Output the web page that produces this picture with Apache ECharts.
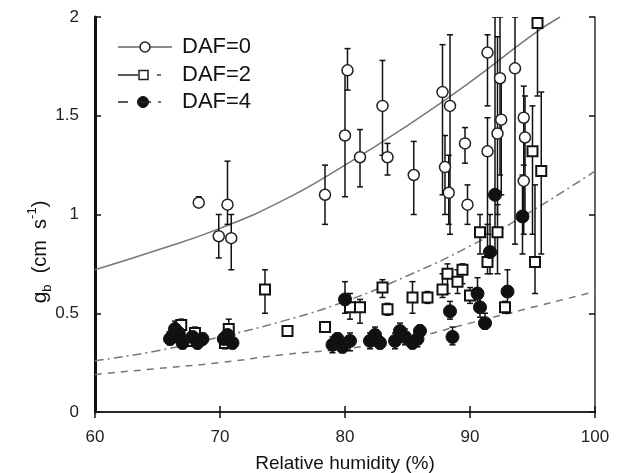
<!DOCTYPE html>
<html>
<head>
<meta charset="utf-8">
<script src="https://cdn.jsdelivr.net/npm/echarts@6/dist/echarts.min.js"></script>
<style>html,body{margin:0;padding:0;background:#fff}#c{width:617px;height:473px}</style>
</head>
<body>
<div id="c"></div>
<script>
// x ticks / y ticks
var xTicks = [60, 70, 80, 90, 100];
var yTicks = [0, 0.5, 1, 1.5, 2];

// [RH, gb, low, high]
var daf0 = [
  [68.3, 1.06, 1.04, 1.09], [69.9, 0.89, 0.78, 1.00], [70.6, 1.05, 0.95, 1.27], [70.9, 0.88, 0.72, 1.00],
  [78.4, 1.10, 0.95, 1.25], [80.0, 1.40, 1.09, 1.72], [80.2, 1.73, 1.63, 1.84], [81.2, 1.29, 1.14, 1.43],
  [83.0, 1.55, 1.30, 1.78], [83.4, 1.29, 1.20, 1.36], [85.5, 1.20, 1.00, 1.37], [87.8, 1.62, 1.10, 1.86],
  [88.0, 1.24, 1.00, 1.40], [88.3, 1.11, 0.95, 1.30], [88.4, 1.55, 0.90, 1.91], [89.6, 1.36, 1.26, 1.44],
  [89.8, 1.05, 0.95, 1.15], [91.4, 1.82, 1.55, 1.91], [91.4, 1.32, 0.90, 1.49], [92.2, 1.41, 1.00, 1.90],
  [92.4, 1.69, 1.20, 2.00], [92.5, 1.48, 1.10, 1.70], [93.6, 1.74, 0.85, 2.00], [94.3, 1.49, 1.25, 1.65],
  [94.4, 1.39, 1.00, 1.60], [94.3, 1.17, 0.90, 1.40]
];
var daf2 = [
  [66.2, 0.38, 0.36, 0.42], [66.9, 0.44, 0.41, 0.47], [67.4, 0.36, 0.34, 0.39], [68.0, 0.40, 0.37, 0.43],
  [70.4, 0.35, 0.32, 0.38], [70.7, 0.42, 0.38, 0.47], [73.6, 0.62, 0.50, 0.72], [75.4, 0.41, 0.39, 0.43],
  [78.4, 0.43, 0.41, 0.45], [80.4, 0.53, 0.47, 0.60], [81.2, 0.53, 0.45, 0.57], [83.0, 0.63, 0.58, 0.67],
  [83.4, 0.52, 0.49, 0.55], [85.4, 0.58, 0.50, 0.66], [86.6, 0.58, 0.55, 0.61], [87.8, 0.62, 0.58, 0.70],
  [88.2, 0.70, 0.60, 0.75], [89.0, 0.66, 0.60, 0.72], [89.4, 0.72, 0.65, 0.75], [90.0, 0.59, 0.55, 0.63],
  [90.8, 0.91, 0.80, 1.00], [91.4, 0.76, 0.70, 0.95], [92.2, 0.91, 0.70, 1.05], [92.8, 0.53, 0.50, 0.56],
  [95.2, 0.76, 0.60, 1.15], [95.0, 1.32, 0.90, 1.55], [95.7, 1.22, 0.80, 1.62], [95.4, 1.97, 1.60, 2.00]
];
var daf4 = [
  [66.0, 0.37, 0.34, 0.40], [66.4, 0.42, 0.39, 0.46], [66.7, 0.40, 0.37, 0.43], [67.0, 0.35, 0.32, 0.38],
  [67.8, 0.38, 0.35, 0.41], [68.2, 0.35, 0.32, 0.38], [68.6, 0.37, 0.34, 0.40], [70.3, 0.37, 0.33, 0.40],
  [70.6, 0.39, 0.36, 0.44], [71.0, 0.35, 0.32, 0.39], [79.0, 0.34, 0.30, 0.38], [79.4, 0.37, 0.33, 0.40],
  [79.8, 0.33, 0.30, 0.36], [80.0, 0.57, 0.50, 0.66], [80.4, 0.36, 0.31, 0.40], [82.0, 0.36, 0.32, 0.40],
  [82.4, 0.39, 0.35, 0.43], [82.8, 0.35, 0.32, 0.38], [84.0, 0.36, 0.32, 0.40], [84.4, 0.41, 0.37, 0.45],
  [84.8, 0.38, 0.34, 0.42], [85.4, 0.35, 0.32, 0.38], [85.8, 0.37, 0.33, 0.41], [86.0, 0.41, 0.37, 0.44],
  [88.4, 0.51, 0.47, 0.56], [88.6, 0.38, 0.34, 0.43], [90.6, 0.60, 0.55, 0.68], [90.8, 0.53, 0.48, 0.58],
  [91.2, 0.45, 0.42, 0.50], [91.6, 0.81, 0.70, 1.00], [92.0, 1.10, 0.80, 2.00], [93.0, 0.61, 0.50, 0.72],
  [94.2, 0.99, 0.80, 1.20]
];

// fitted curves
var fit0 = [[60, 0.72], [65, 0.82], [70, 0.93], [75, 1.07], [80, 1.25], [85, 1.45], [90, 1.67], [95, 1.91], [97.2, 2.0]];
var fit2 = [[60, 0.26], [65, 0.31], [70, 0.38], [75, 0.46], [80, 0.56], [85, 0.69], [90, 0.84], [95, 1.02], [100, 1.22]];
var fit4 = [[60, 0.19], [65, 0.22], [70, 0.25], [75, 0.29], [80, 0.32], [85, 0.37], [90, 0.45], [95, 0.53], [100, 0.61]];

var legendNames = ['DAF=0', 'DAF=2', 'DAF=4'];

var FONT = 'Liberation Sans, Arial, sans-serif';

function errSeries(data) {
  return {
    type: 'custom',
    clip: true,
    silent: true,
    z: 2,
    data: data.map(function (d) { return [d[0], d[2], d[3]]; }),
    renderItem: function (params, api) {
      var lo = api.coord([api.value(0), api.value(1)]);
      var hi = api.coord([api.value(0), api.value(2)]);
      var w = 3;
      var st = { stroke: '#111', lineWidth: 1.5 };
      return {
        type: 'group',
        children: [
          { type: 'line', shape: { x1: lo[0], y1: lo[1], x2: hi[0], y2: hi[1] }, style: st },
          { type: 'line', shape: { x1: lo[0] - w, y1: lo[1], x2: lo[0] + w, y2: lo[1] }, style: st },
          { type: 'line', shape: { x1: hi[0] - w, y1: hi[1], x2: hi[0] + w, y2: hi[1] }, style: st }
        ]
      };
    }
  };
}

function xy(data) { return data.map(function (d) { return [d[0], d[1]]; }); }

var chart = echarts.init(document.getElementById('c'), null, { renderer: 'canvas' });

var axisLbl = { color: '#222', fontSize: 17, fontFamily: FONT };

// legend graphics
var lx = 118, ly = [47, 75, 102];
var legendGraphic = [
  { type: 'line', shape: { x1: lx, y1: ly[0], x2: lx + 54, y2: ly[0] }, style: { stroke: '#666', lineWidth: 1.5 } },
  { type: 'circle', shape: { cx: lx + 27, cy: ly[0], r: 5 }, style: { fill: '#fff', stroke: '#222', lineWidth: 1.5 } },
  { type: 'line', shape: { x1: lx, y1: ly[1], x2: lx + 20, y2: ly[1] }, style: { stroke: '#222', lineWidth: 1.5 } },
  { type: 'rect', shape: { x: lx + 21, y: ly[1] - 4.5, width: 9, height: 9 }, style: { fill: '#fff', stroke: '#222', lineWidth: 1.5 } },
  { type: 'line', shape: { x1: lx + 39, y1: ly[1], x2: lx + 43, y2: ly[1] }, style: { stroke: '#444', lineWidth: 1.5 } },
  { type: 'line', shape: { x1: lx, y1: ly[2], x2: lx + 10, y2: ly[2] }, style: { stroke: '#222', lineWidth: 1.5 } },
  { type: 'circle', shape: { cx: lx + 25, cy: ly[2], r: 5.5 }, style: { fill: '#111', stroke: '#111', lineWidth: 1 } },
  { type: 'line', shape: { x1: lx + 19, y1: ly[2], x2: lx + 33, y2: ly[2] }, style: { stroke: '#222', lineWidth: 1.5 } },
  { type: 'line', shape: { x1: lx + 40, y1: ly[2], x2: lx + 43, y2: ly[2] }, style: { stroke: '#444', lineWidth: 1.5 } }
];
legendNames.forEach(function (n, i) {
  legendGraphic.push({
    type: 'text', x: 182, y: ly[i], style: { text: n, fill: '#111', font: '500 22px ' + FONT, verticalAlign: 'middle', textAlign: 'left' }
  });
});
// y axis title (rotated), with subscript and superscript
legendGraphic.push({
  type: 'text', x: 40, y: 252, rotation: Math.PI / 2,
  style: {
    text: '{g|g}{sub|b}{n|  (cm  s}{sup|-1}{n|)}', fill: '#111', align: 'center', verticalAlign: 'middle',
    rich: {
      g: { fontSize: 21, fontFamily: FONT, fill: '#111', lineHeight: 28 },
      n: { fontSize: 20, fontFamily: FONT, fill: '#111', lineHeight: 28 },
      sub: { fontSize: 13, fontFamily: FONT, fill: '#111', verticalAlign: 'bottom', lineHeight: 28 },
      sup: { fontSize: 13, fontFamily: FONT, fill: '#111', verticalAlign: 'top', lineHeight: 28 }
    }
  }
});

chart.setOption({
  animation: false,
  backgroundColor: '#fff',
  grid: { left: 95, right: 22, top: 17, bottom: 61, containLabel: false, outerBoundsMode: 'none' },
  xAxis: [
    {
      type: 'value', min: 60, max: 100, interval: 10,
      axisLine: { show: true, lineStyle: { color: '#111', width: 2 } },
      axisTick: { show: true, inside: true, length: 6, lineStyle: { color: '#111', width: 1.5 } },
      splitLine: { show: false },
      axisLabel: Object.assign({ margin: 17, formatter: function (v) { return xTicks.indexOf(v) >= 0 ? String(v) : ''; } }, axisLbl),
      name: 'Relative humidity (%)', nameLocation: 'middle', nameGap: 42,
      nameTextStyle: { color: '#111', fontSize: 19, fontFamily: FONT }
    },
    {
      type: 'value', min: 60, max: 100, interval: 10, position: 'top',
      axisLine: { show: true, lineStyle: { color: '#333', width: 1.5 } },
      axisTick: { show: true, inside: true, length: 6, lineStyle: { color: '#111', width: 1.5 } },
      axisLabel: { show: false }, splitLine: { show: false }
    }
  ],
  yAxis: [
    {
      type: 'value', min: 0, max: 2, interval: 0.5,
      axisLine: { show: true, lineStyle: { color: '#111', width: 3 } },
      axisTick: { show: true, inside: true, length: 6, lineStyle: { color: '#111', width: 1.5 } },
      splitLine: { show: false },
      axisLabel: Object.assign({ margin: 16, formatter: function (v) { return yTicks.indexOf(v) >= 0 ? String(v) : ''; } }, axisLbl)
    },
    {
      type: 'value', min: 0, max: 2, interval: 0.5, position: 'right',
      axisLine: { show: true, lineStyle: { color: '#333', width: 1.5 } },
      axisTick: { show: true, inside: true, length: 6, lineStyle: { color: '#111', width: 1.5 } },
      axisLabel: { show: false }, splitLine: { show: false }
    }
  ],
  graphic: legendGraphic,
  series: [
    { name: 'fit0', type: 'line', smooth: true, symbol: 'none', data: fit0, z: 1, silent: true,
      lineStyle: { color: '#777', width: 1.5, type: 'solid' } },
    { name: 'fit2', type: 'line', smooth: true, symbol: 'none', data: fit2, z: 1, silent: true,
      lineStyle: { color: '#777', width: 1.5, type: [9, 4, 2, 4] } },
    { name: 'fit4', type: 'line', smooth: true, symbol: 'none', data: fit4, z: 1, silent: true,
      lineStyle: { color: '#777', width: 1.5, type: [7, 6] } },
    errSeries(daf0),
    errSeries(daf2),
    errSeries(daf4),
    { name: legendNames[0], type: 'scatter', data: xy(daf0), symbol: 'circle', symbolSize: 11, z: 3,
      itemStyle: { color: '#fff', borderColor: '#222', borderWidth: 1.5, opacity: 1 } },
    { name: legendNames[1], type: 'scatter', data: xy(daf2), symbol: 'rect', symbolSize: 10, z: 3,
      itemStyle: { color: '#fff', borderColor: '#111', borderWidth: 2, opacity: 1 } },
    { name: legendNames[2], type: 'scatter', data: xy(daf4), symbol: 'circle', symbolSize: 13, z: 4,
      itemStyle: { color: '#111', borderColor: '#111', borderWidth: 1, opacity: 1 } }
  ]
});
</script>
</body>
</html>
